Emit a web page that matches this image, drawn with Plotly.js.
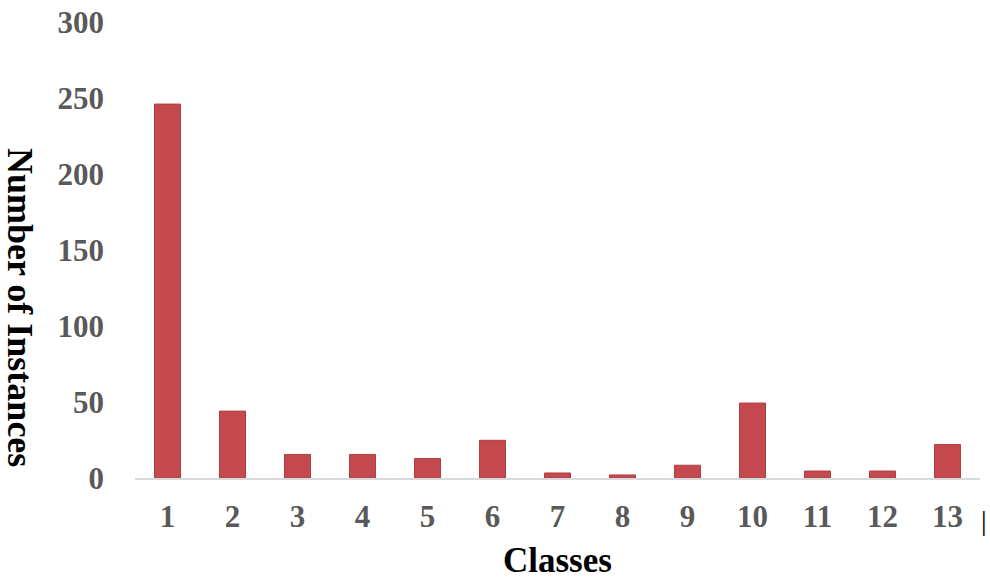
<!DOCTYPE html>
<html>
<head>
<meta charset="utf-8">
<script src="https://cdn.plot.ly/plotly-3.0.1.min.js"></script>
<style>
  html, body { margin: 0; padding: 0; background: #fff; }
  #chart { width: 990px; height: 579px; }
</style>
</head>
<body>
<div id="chart"></div>
<script>
// class labels and instance counts
const classes = ['1', '2', '3', '4', '5', '6', '7', '8', '9', '10', '11', '12', '13'];
const instances = [246, 44, 15.5, 15.5, 12.8, 24.8, 3.3, 2, 8.4, 49.3, 4.6, 4.6, 22];
const yTicks = [0, 50, 100, 150, 200, 250, 300];

const serif = '"Liberation Serif", "Times New Roman", serif';

const trace = {
  x: classes,
  y: instances,
  type: 'bar',
  marker: { color: '#C4494E', line: { color: '#B0403E', width: 1 } },
  hoverinfo: 'x+y'
};

const layout = {
  width: 990,
  height: 579,
  margin: { l: 135, r: 10, t: 22, b: 101 },
  paper_bgcolor: '#fff',
  plot_bgcolor: '#fff',
  showlegend: false,
  bargap: 0.6,
  xaxis: {
    type: 'category',
    showgrid: false,
    zeroline: false,
    showline: true,
    linecolor: '#D5DADD',
    linewidth: 2,
    ticks: '',
    ticklabelstandoff: 10,
    tickfont: { family: serif, size: 31, color: '#595959', weight: 'bold' }
  },
  yaxis: {
    range: [0, 300],
    tickvals: yTicks,
    showgrid: false,
    zeroline: false,
    showline: false,
    ticks: '',
    ticklabelstandoff: 30,
    tickfont: { family: serif, size: 31, color: '#595959', weight: 'bold' }
  },
  annotations: [
    {
      text: '<b>Classes</b>',
      xref: 'paper', yref: 'paper',
      x: 0.5, y: 0, yshift: -82,
      xanchor: 'center', yanchor: 'middle',
      showarrow: false,
      font: { family: serif, size: 35, color: '#000' }
    },
    {
      text: '<b>Number of Instances</b>',
      xref: 'paper', yref: 'paper',
      x: 0, xshift: -115, y: 0.375,
      xanchor: 'center', yanchor: 'middle',
      textangle: 90,
      showarrow: false,
      font: { family: serif, size: 36, color: '#000' }
    },
    {
      text: '|',
      xref: 'paper', yref: 'paper',
      x: 1, xshift: 4, y: 0, yshift: -42,
      xanchor: 'center', yanchor: 'middle',
      showarrow: false,
      font: { family: serif, size: 28, color: '#000' }
    }
  ]
};

Plotly.newPlot('chart', [trace], layout, { displayModeBar: false, staticPlot: true });
</script>
</body>
</html>
